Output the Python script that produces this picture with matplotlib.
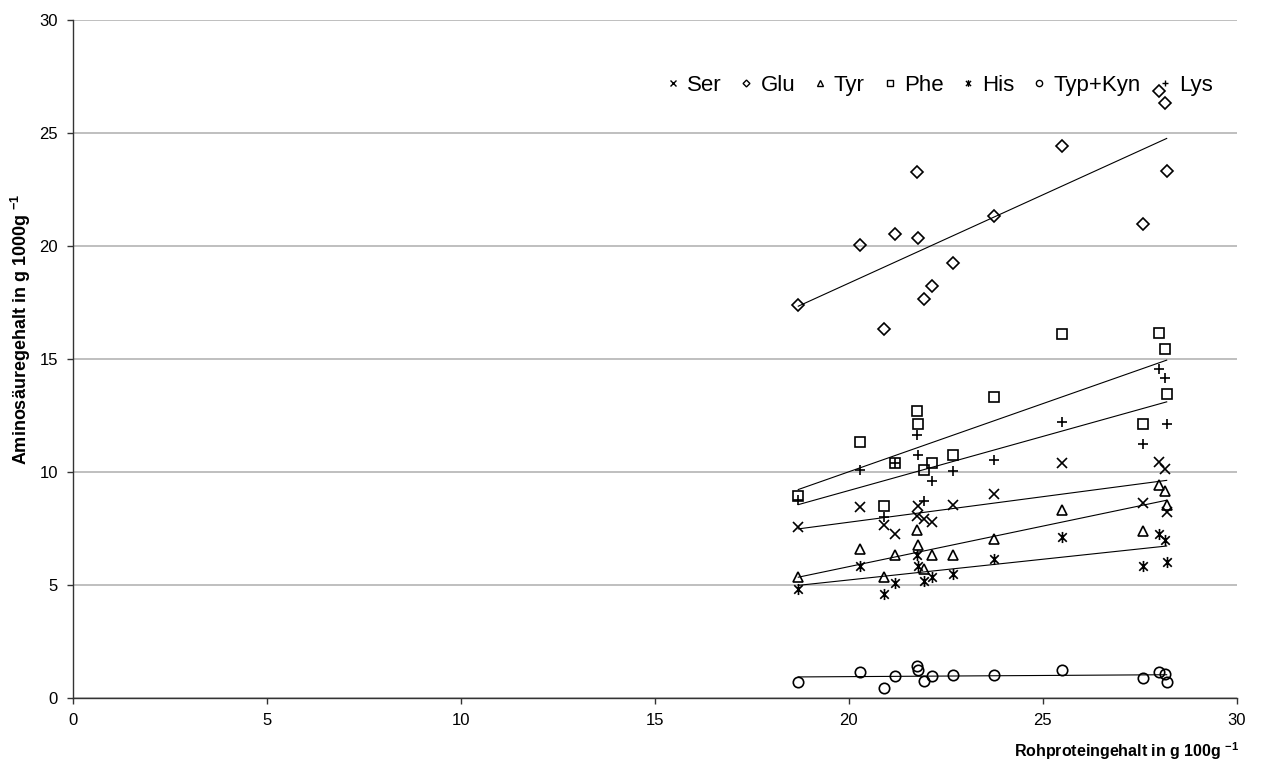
import numpy as np
import matplotlib.pyplot as plt
from matplotlib.path import Path

plt.rcParams['font.family'] = ['Liberation Sans', 'DejaVu Sans']
plt.rcParams['mathtext.default'] = 'regular'

# Rohproteingehalt (x) je Probe
protein = np.array([18.7, 20.3, 20.9, 21.2, 21.75, 21.8, 21.95, 22.15, 22.7, 23.75,
                    25.5, 27.6, 28.0, 28.15, 28.2])

ser = np.array([7.55, 8.44, 7.64, 7.27, 8.04, 8.50, 7.93, 7.80, 8.53, 9.01,
                10.38, 8.63, 10.44, 10.13, 8.23])
glu = np.array([17.39, 20.03, 16.33, 20.52, 23.29, 20.37, 17.67, 18.22, 19.26, 21.34,
                24.44, 20.99, 26.87, 26.34, 23.33])
tyr = np.array([5.37, 6.59, 5.34, 6.31, 7.42, 6.76, 5.72, 6.34, 6.31, 7.04,
                8.30, 7.40, 9.41, 9.16, 8.55])
phe = np.array([8.92, 11.34, 8.51, 10.40, 12.70, 12.12, 10.07, 10.40, 10.77, 13.30,
                16.11, 12.11, 16.17, 15.46, 13.44])
his = np.array([4.81, 5.86, 4.62, 5.09, 6.34, 5.86, 5.19, 5.37, 5.47, 6.16,
                7.12, 5.84, 7.24, 6.99, 6.00])
typ_kyn = np.array([0.70, 1.14, 0.44, 0.97, 1.43, 1.22, 0.75, 0.97, 1.02, 1.02,
                    1.22, 0.87, 1.17, 1.06, 0.72])
lys = np.array([8.76, 10.09, 8.02, 10.40, 11.64, 10.77, 8.72, 9.60, 10.03, 10.53,
                12.23, 11.24, 14.56, 14.15, 12.11])

# Sternchen-Marker: x plus senkrechter Strich
star = Path([(-1, -1), (1, 1), (-1, 1), (1, -1), (0, -1.3), (0, 1.3)],
            [Path.MOVETO, Path.LINETO, Path.MOVETO, Path.LINETO, Path.MOVETO, Path.LINETO])

series = [
    ("Ser", ser, "x", 7.5),
    ("Glu", glu, "D", 5.8),
    ("Tyr", tyr, "^", 7.5),
    ("Phe", phe, "s", 7),
    ("His", his, star, 8),
    ("Typ+Kyn", typ_kyn, "o", 7.5),
    ("Lys", lys, "+", 7.5),
]

fig = plt.figure(figsize=(12.66, 7.67), dpi=100)
ax = fig.add_axes([0.0577, 0.09, 0.919, 0.884])

for name, vals, m, ms in series:
    ax.plot(protein, vals, linestyle="none", marker=m, markersize=ms,
            markerfacecolor="none", markeredgecolor="black", markeredgewidth=1.2,
            label=name)
    # lineare Trendlinie
    k, d = np.polyfit(protein, vals, 1)
    xs = np.array([protein.min(), protein.max()])
    ax.plot(xs, k * xs + d, color="black", linewidth=0.8)

ax.set_xlim(0, 30)
ax.set_ylim(0, 30)
ax.set_xticks(range(0, 31, 5))
ax.set_yticks(range(0, 31, 5))
ax.yaxis.grid(True, color="#b4b4b4", linewidth=1.2)
ax.set_axisbelow(True)
for s in ["top", "right"]:
    ax.spines[s].set_visible(False)
for s in ["left", "bottom"]:
    ax.spines[s].set_color("#333333")
    ax.spines[s].set_linewidth(1.0)
ax.tick_params(direction="out", length=4, width=1, color="#333333",
               labelsize=12, pad=7)

ax.set_ylabel(r"Aminosäuregehalt in g 1000g $^{-1}$", fontsize=13, fontweight="bold")
ax.yaxis.set_label_coords(-0.034, 0.543)
fig.text(0.979, 0.006, r"Rohproteingehalt in g 100g $^{-1}$", fontsize=11.5,
         fontweight="bold", ha="right", va="bottom")

leg = ax.legend(loc="center right", bbox_to_anchor=(0.98, 0.903), ncol=7, frameon=False,
                fontsize=16, markerscale=0.6, handlelength=0.6, handletextpad=0.33,
                columnspacing=0.82, borderaxespad=0, borderpad=0)
for h in leg.legend_handles:
    h.set_markeredgewidth(1.0)

fig.savefig("out.png", dpi=100)
